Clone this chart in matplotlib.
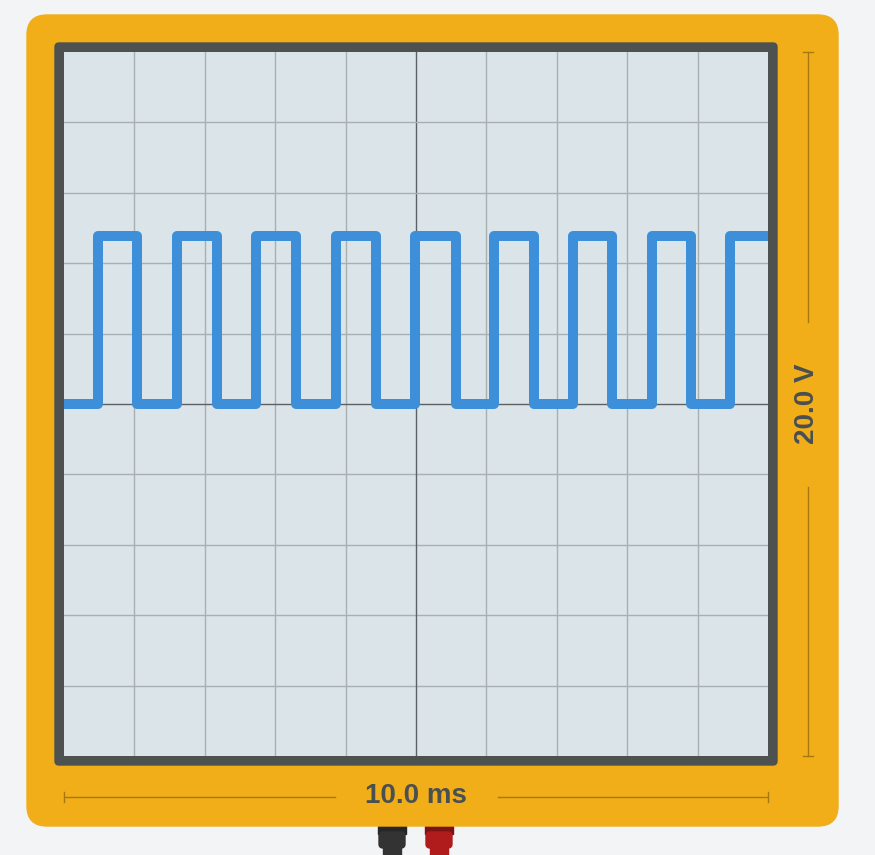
import numpy as np
import matplotlib.pyplot as plt
from matplotlib.patches import FancyBboxPatch, Rectangle

t_total_ms = 10.0          # ancho total de la pantalla
v_total = 20.0             # alto total de la pantalla
v_alto = 4.76              # nivel alto de la senal (V)
v_bajo = 0.0               # nivel bajo de la senal (V)
# instantes de los flancos (ms): subida, bajada, subida, ...
flancos_ms = [0.48, 1.04, 1.60, 2.17, 2.73, 3.30, 3.86, 4.43, 4.99,
              5.57, 6.11, 6.68, 7.23, 7.78, 8.35, 8.91, 9.46]
etiqueta_x = "10.0 ms"
etiqueta_y = "20.0 V"

# Colores
fondo = '#f3f4f6'
naranja = '#f1ae19'
marco = '#4d5150'
pantalla = '#dae4e9'
rejilla = '#a8b0b2'
azul = '#3d8fd9'
texto = '#4a4f50'
cota = '#a87810'

W, H = 875, 855
fig = plt.figure(figsize=(W / 100, H / 100), dpi=100, facecolor=fondo)

# Eje de fondo en pixeles (y hacia abajo)
bg = fig.add_axes([0, 0, 1, 1])
bg.set_xlim(0, W)
bg.set_ylim(H, 0)
bg.axis('off')

# Sondas (detras del panel naranja)
for x0, c_top, c_body in [(378, '#262626', '#333333'), (425, '#7a1313', '#b01c1c')]:
    bg.add_patch(Rectangle((x0, 820), 28, 14, color=c_top, zorder=1))
    bg.add_patch(FancyBboxPatch((x0 + 1, 832), 26, 16, boxstyle='round,pad=0,rounding_size=4',
                                color=c_body, zorder=1))
    bg.add_patch(Rectangle((x0 + 5, 846), 18, 12, color=c_body, zorder=1))

bg.add_patch(FancyBboxPatch((27, 15), 811, 811, boxstyle='round,pad=0,rounding_size=20',
                            color=naranja, zorder=2))
bg.add_patch(FancyBboxPatch((55, 43), 722, 722, boxstyle='round,pad=0,rounding_size=4',
                            color=marco, zorder=3))

# Cotas
bg.plot([808, 808], [52, 322], color=cota, lw=1, zorder=4)
bg.plot([808, 808], [487, 756], color=cota, lw=1, zorder=4)
bg.plot([803, 813], [52, 52], color=cota, lw=1, zorder=4)
bg.plot([803, 813], [756, 756], color=cota, lw=1, zorder=4)
bg.plot([64, 335], [797, 797], color=cota, lw=1, zorder=4)
bg.plot([498, 768], [797, 797], color=cota, lw=1, zorder=4)
bg.plot([64, 64], [792, 802], color=cota, lw=1, zorder=4)
bg.plot([768, 768], [792, 802], color=cota, lw=1, zorder=4)

bg.text(416, 796, etiqueta_x, ha='center', va='center', fontsize=20, fontweight='bold',
        color=texto, family='Liberation Sans', zorder=5)
bg.text(807, 404, etiqueta_y, ha='center', va='center', rotation=90, fontsize=20,
        fontweight='bold', color=texto, family='Liberation Sans', zorder=5)

# Pantalla
ax = fig.add_axes([64 / W, (H - 756) / H, 704 / W, 704 / H])
ax.set_facecolor(pantalla)
ax.set_xlim(0, t_total_ms)
ax.set_ylim(-v_total / 2, v_total / 2)
for s in ax.spines.values():
    s.set_visible(False)
ax.set_xticks([])
ax.set_yticks([])

for i in range(1, 10):
    xg = i * t_total_ms / 10
    yg = -v_total / 2 + i * v_total / 10
    c = '#5c6263' if i == 5 else rejilla
    ax.axvline(xg, color=c, lw=1, zorder=1)
    ax.axhline(yg, color=c, lw=1, zorder=1)

# Senal cuadrada a partir de los flancos
t = [0.0]
v = [v_bajo]
nivel = v_bajo
for f in flancos_ms:
    t += [f, f]
    nuevo = v_alto if nivel == v_bajo else v_bajo
    v += [nivel, nuevo]
    nivel = nuevo
t.append(t_total_ms)
v.append(nivel)
ax.plot(t, v, color=azul, lw=7.2, solid_joinstyle='round', solid_capstyle='butt', zorder=3)

fig.savefig('out.png', dpi=100, facecolor=fondo)
